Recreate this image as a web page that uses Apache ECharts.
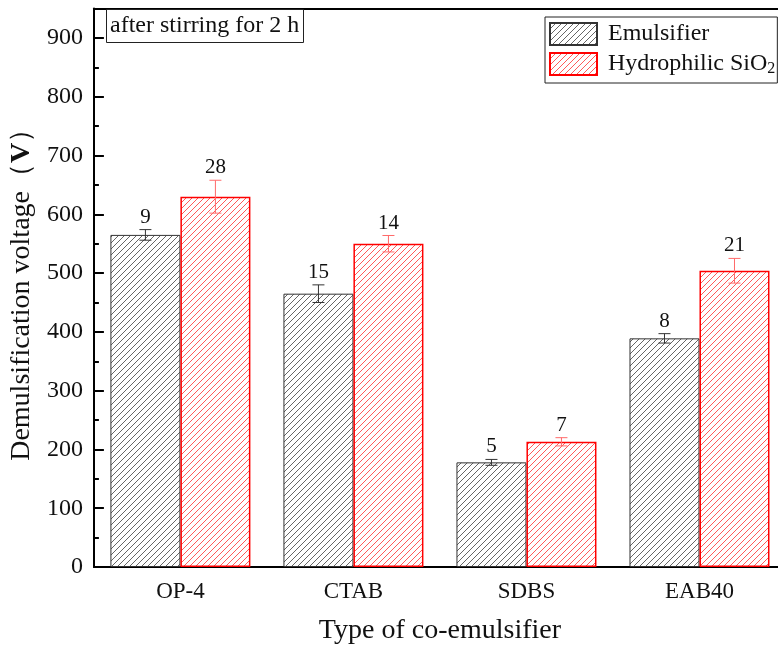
<!DOCTYPE html>
<html>
<head>
<meta charset="utf-8">
<script src="https://cdn.jsdelivr.net/npm/echarts@6/dist/echarts.min.js"></script>
<style>html,body{margin:0;padding:0;background:#fff;overflow:hidden}#c{width:800px;height:652px}</style>
</head>
<body>
<div id="c"></div>
<script>
const categories = ['OP-4', 'CTAB', 'SDBS', 'EAB40'];
const emulsifier = [565, 465, 178, 389];
const emulsifierErr = [9, 15, 5, 8];
const sio2 = [630, 550, 213, 504];
const sio2Err = [28, 14, 7, 21];
const yTicks = { min: 0, max: 950, interval: 100 };

const FONT = '"Liberation Serif", "Times New Roman", serif';

function hatch(color) {
  const s = 6;
  const c = document.createElement('canvas');
  c.width = s; c.height = s;
  const ctx = c.getContext('2d');
  ctx.fillStyle = '#fff';
  ctx.fillRect(0, 0, s, s);
  ctx.strokeStyle = color;
  ctx.lineWidth = 1;
  ctx.beginPath();
  ctx.moveTo(0, s); ctx.lineTo(s, 0);
  ctx.moveTo(-1, 1); ctx.lineTo(1, -1);
  ctx.moveTo(s - 1, s + 1); ctx.lineTo(s + 1, s - 1);
  ctx.stroke();
  return { image: c, repeat: 'repeat' };
}

const BAR_W = 70;

function errSeries(vals, errs, offset, color) {
  return {
    type: 'custom',
    z: 10,
    silent: true,
    encode: { x: 0, y: 1 },
    data: vals.map((v, i) => [i, v, errs[i]]),
    renderItem: function (params, api) {
      const i = api.value(0), v = api.value(1), e = api.value(2);
      const top = api.coord([i, v + e]);
      const bot = api.coord([i, v - e]);
      const x = top[0] + offset;
      const cw = 6;
      const st = { stroke: color, lineWidth: 1 };
      return {
        type: 'group',
        children: [
          { type: 'line', shape: { x1: x, y1: top[1], x2: x, y2: bot[1] }, style: st },
          { type: 'line', shape: { x1: x - cw, y1: top[1], x2: x + cw, y2: top[1] }, style: st },
          { type: 'line', shape: { x1: x - cw, y1: bot[1], x2: x + cw, y2: bot[1] }, style: st },
          { type: 'text', style: { text: String(e), x: x, y: top[1] - 2, align: 'center', verticalAlign: 'bottom', font: '21px ' + FONT, fill: '#111' } }
        ]
      };
    }
  };
}

const chart = echarts.init(document.getElementById('c'), null, { renderer: 'canvas' });
chart.setOption({
  backgroundColor: '#fff',
  animation: false,
  title: {
    text: 'after stirring for 2 h',
    left: 106, top: 9,
    padding: [4, 4, 4, 4],
    borderColor: '#222', borderWidth: 1,
    textStyle: { fontFamily: FONT, fontSize: 24, fontWeight: 'normal', color: '#111', lineHeight: 26 }
  },
  legend: {
    orient: 'vertical',
    left: 545, top: 17,
    padding: [5, 2, 6, 4],
    icon: 'rect',
    itemWidth: 47, itemHeight: 22, itemGap: 6,
    borderColor: '#222', borderWidth: 1,
    backgroundColor: '#fff',
    formatter: function (n) { return n === 'Hydrophilic SiO2' ? 'Hydrophilic SiO{sub|2}' : n; },
    textStyle: {
      fontFamily: FONT, fontSize: 24, color: '#111', padding: [0, 0, 0, 6],
      rich: { sub: { fontFamily: FONT, fontSize: 16, color: '#111', verticalAlign: 'bottom', padding: [10, 0, 0, 0] } }
    },
    data: ['Emulsifier', 'Hydrophilic SiO2']
  },
  grid: { left: 93, top: 8.6, right: 14, height: 558.4, containLabel: false },
  xAxis: [{
    type: 'category',
    data: categories,
    axisLine: { lineStyle: { color: '#000', width: 2 } },
    axisTick: { show: false },
    axisLabel: { fontFamily: FONT, fontSize: 23, color: '#111', margin: 13 },
    name: 'Type of co-emulsifier',
    nameLocation: 'middle',
    nameGap: 50,
    nameTextStyle: { fontFamily: FONT, fontSize: 28, color: '#111' }
  }, {
    type: 'category',
    position: 'top',
    data: categories,
    axisLine: { show: true, lineStyle: { color: '#000', width: 2 } },
    axisTick: { show: false },
    axisLabel: { show: false }
  }],
  yAxis: {
    type: 'value',
    min: yTicks.min, max: yTicks.max, interval: yTicks.interval,
    axisLine: { show: true, lineStyle: { color: '#000', width: 2 } },
    axisTick: { show: true, inside: true, length: 10, lineStyle: { color: '#000', width: 2 } },
    minorTick: { show: true, splitNumber: 2, length: 5, lineStyle: { color: '#000', width: 2 } },
    splitLine: { show: false },
    axisLabel: {
      fontFamily: FONT, fontSize: 24, color: '#111', margin: 11,
      formatter: function (v) { return v > 900 ? '' : String(v); }
    },
    name: 'Demulsification voltage（{b|V}）',
    nameLocation: 'middle',
    nameGap: 47,
    nameTextStyle: {
      fontFamily: FONT, fontSize: 28, color: '#111',
      rich: { b: { fontFamily: FONT, fontSize: 28, fontWeight: 'bold', color: '#111' } }
    }
  },
  series: [{
    name: 'Emulsifier',
    type: 'bar',
    data: emulsifier,
    barWidth: BAR_W,
    barGap: '0%',
    itemStyle: { color: hatch('#666'), borderColor: '#333', borderWidth: 1 }
  }, {
    name: 'Hydrophilic SiO2',
    type: 'bar',
    data: sio2,
    barWidth: BAR_W,
    barGap: '0%',
    itemStyle: { color: hatch('#ff5a5a'), borderColor: '#ff0000', borderWidth: 1.5 }
  },
  errSeries(emulsifier, emulsifierErr, -BAR_W / 2, '#333'),
  errSeries(sio2, sio2Err, BAR_W / 2, '#ff6a6a')
  ]
});
</script>
</body>
</html>
